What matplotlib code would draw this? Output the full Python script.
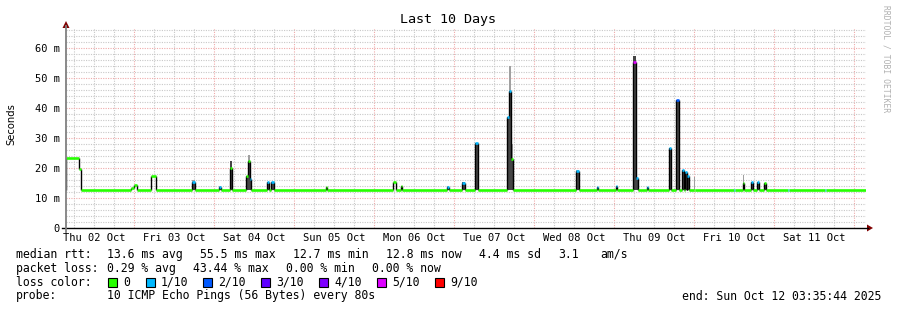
import matplotlib
matplotlib.use('Agg')
from matplotlib import pyplot as plt
from matplotlib.lines import Line2D
from matplotlib.patches import Polygon, Rectangle

W, H = 897, 310
MONO = 'DejaVu Sans Mono'

# time axis: hours since Thu 02 Oct 00:00
t_start = 3.596
t_end = 243.596
baseline = 12.7   # median rtt (ms) outside the events

# events on the median line (start h, end h, median ms, dark smoke top, light smoke top, loss idx)
ev_from = [3.6, 7.35, 22.95, 24.0, 29.1, 41.4, 49.5, 52.8, 57.6, 58.05, 58.65, 63.75, 65.1,
           81.45, 101.7, 103.95, 117.75, 122.4, 126.3, 135.9, 136.5, 137.1, 156.45, 162.75,
           168.45, 173.7, 174.6, 177.75, 184.5, 186.6, 188.25, 189.15, 189.9, 191.85, 204.0,
           206.55, 208.95, 210.75, 212.85, 220.2, 231.3]
ev_to = [7.35, 7.95, 24.0, 24.9, 30.45, 42.15, 50.1, 53.25, 58.05, 58.65, 59.1, 64.35, 66.0,
         81.9, 102.45, 104.4, 118.35, 123.3, 127.05, 136.5, 137.1, 137.7, 157.35, 163.2,
         168.9, 174.6, 175.2, 178.2, 185.1, 187.5, 188.85, 189.75, 190.5, 192.3, 204.3,
         207.0, 209.7, 211.35, 213.45, 220.5, 231.6]
ev_median = [23.3, 19.8, 13.4, 14.4, 17.4, 15.5, 13.6, 20.0, 17.2, 22.5, 16.5, 15.3, 15.3,
             13.8, 15.5, 14.0, 13.8, 15.0, 28.4, 37.0, 45.8, 23.0, 19.0, 13.8,
             14.0, 55.3, 16.7, 13.7, 26.7, 42.7, 19.5, 18.7, 17.3, 12.7, 12.7,
             15.0, 15.3, 15.3, 15.0, 12.7, 12.7]
ev_core = [12.7, 12.7, 12.7, 12.7, 12.7, 15.5, 13.6, 22.3, 17.5, 22.5, 16.5, 15.3, 15.3,
           13.8, 12.7, 14.0, 13.8, 15.2, 28.4, 37.0, 45.8, 23.0, 19.0, 13.8,
           14.0, 57.3, 16.7, 13.7, 26.7, 42.7, 19.5, 18.7, 17.3, 12.7, 12.7,
           15.0, 15.3, 15.3, 15.0, 12.7, 12.7]
ev_smoke = [12.7, 12.7, 12.7, 12.7, 12.7, 16.0, 14.0, 22.5, 17.5, 24.5, 16.5, 15.5, 15.5,
            13.8, 12.7, 14.0, 14.0, 15.5, 28.4, 37.0, 54.0, 28.0, 19.5, 13.8,
            14.0, 57.3, 16.7, 13.7, 26.7, 42.7, 19.5, 18.7, 17.3, 17.0, 12.7,
            17.7, 15.3, 15.3, 15.0, 12.7, 12.7]
ev_loss = [0, 0, 0, 0, 0, 1, 1, 0, 0, 0, 1, 1, 1,
           0, 0, 0, 1, 1, 1, 1, 1, 0, 1, 1,
           1, 5, 1, 1, 1, 2, 1, 1, 1, 0, 1,
           0, 1, 1, 0, 1, 1]

loss_labels = ['0', '1/10', '2/10', '3/10', '4/10', '5/10', '9/10']
loss_colors = ['#26ff00', '#00b8ff', '#0059ff', '#5e00ff', '#7e00ff', '#dd00ff', '#ff0000']

day_labels = ['Thu 02 Oct', 'Fri 03 Oct', 'Sat 04 Oct', 'Sun 05 Oct', 'Mon 06 Oct',
              'Tue 07 Oct', 'Wed 08 Oct', 'Thu 09 Oct', 'Fri 10 Oct', 'Sat 11 Oct']
y_ticks = [0, 10, 20, 30, 40, 50, 60]


def px(x, y):
    return x / W, 1 - y / H


# build the step segments: baseline between events
seg = []
t = t_start
for i in range(len(ev_from)):
    if ev_from[i] > t:
        seg.append((t, ev_from[i], baseline, 0))
    seg.append((ev_from[i], ev_to[i], ev_median[i], ev_loss[i]))
    t = ev_to[i]
seg.append((t, t_end, baseline, 0))

fig = plt.figure(figsize=(W / 100, H / 100), dpi=100)
fig.patch.set_facecolor('white')
ax = fig.add_axes([66 / W, 82 / H, 800 / W, 200 / H])
ax.set_xlim(t_start, t_end)
ax.set_ylim(0, 66.67)
for s in ax.spines.values():
    s.set_visible(False)

# grid
grid_c = '#c8c8c8'
mgrid_c = '#efaaaa'
dots = (0, (1, 1.2))
h = 6
while h < t_end:
    if h > t_start:
        c = mgrid_c if h % 24 == 0 else grid_c
        ax.axvline(h, color=c, lw=0.8, ls=dots, zorder=0)
    h += 6
for v in range(2, 67, 2):
    c = mgrid_c if v % 10 == 0 else grid_c
    ax.axhline(v, color=c, lw=0.8, ls=dots, zorder=0)

# smoke
for i in range(len(ev_from)):
    w = ev_to[i] - ev_from[i]
    if ev_smoke[i] > baseline:
        ax.bar(ev_from[i], ev_smoke[i] - baseline, width=w, bottom=baseline, align='edge',
               color='#a0a0a0', lw=0, zorder=1)
    if ev_core[i] > baseline:
        ax.bar(ev_from[i], ev_core[i] - baseline, width=w, bottom=baseline, align='edge',
               color='#454545', lw=0, zorder=2)

# median line: black risers, loss-coloured treads
for a, b in zip(seg[:-1], seg[1:]):
    if a[2] != b[2]:
        ax.plot([b[0], b[0]], [a[2], b[2]], color='black', lw=1.0, zorder=3,
                solid_capstyle='butt')
for s in seg:
    ax.plot([s[0], s[1]], [s[2], s[2]], color=loss_colors[s[3]], lw=1.9, zorder=4,
            solid_capstyle='butt')

ax.set_xticks([12 + 24 * i for i in range(len(day_labels))])
ax.set_xticklabels(day_labels, fontfamily=MONO, fontsize=7.5)
ax.set_yticks(y_ticks)
ax.set_yticklabels(['0' if v == 0 else '%d m' % v for v in y_ticks], fontfamily=MONO, fontsize=7.5)
ax.tick_params(axis='x', length=0, pad=3.5)
ax.tick_params(axis='y', length=0, pad=4.5)

# axes lines and arrows
fig.add_artist(Line2D([px(62, 0)[0], px(868, 0)[0]], [px(0, 228)[1]] * 2, color='black', lw=1))
fig.add_artist(Line2D([px(66, 0)[0]] * 2, [px(0, 232)[1], px(0, 26)[1]], color='#808080', lw=1.3))
fig.add_artist(Polygon([px(867, 224.5), px(867, 231.5), px(873, 228)], closed=True,
                       color='#800000', lw=0))
fig.add_artist(Polygon([px(62.5, 28), px(69.5, 28), px(66, 21)], closed=True,
                       color='#800000', lw=0))

# titles
fig.text(*px(448, 20), 'Last 10 Days', family=MONO, fontsize=9.6, ha='center', va='center')
fig.text(*px(11, 124), 'Seconds', fontsize=7.2, rotation=90, ha='center', va='center')
fig.text(*px(886, 5), 'RRDTOOL / TOBI OETIKER', family=MONO, fontsize=5.8, color='#b0b0b0',
         rotation=270, ha='center', va='top')

# legend block
fs = 8.3
rows = [
    (254.3, [(16, 'median rtt:'), (107, '13.6 ms avg'), (200, '55.5 ms max'), (293, '12.7 ms min'),
             (386, '12.8 ms now'), (479, '4.4 ms sd'), (558, '3.1'), (600, 'am/s')]),
    (268.3, [(16, 'packet loss:'), (107, '0.29 % avg'), (193, '43.44 % max'), (286, '0.00 % min'),
             (372, '0.00 % now')]),
    (296, [(16, 'probe:'), (107, '10 ICMP Echo Pings (56 Bytes) every 80s')]),
]
for y, items in rows:
    for x, txt in items:
        fig.text(*px(x, y), txt, family=MONO, fontsize=fs, ha='left', va='center')

fig.text(*px(16, 282.3), 'loss color:', family=MONO, fontsize=fs, ha='left', va='center')
box_x = [108, 146, 203, 261, 319, 377, 435]
for bx, lab, col in zip(box_x, loss_labels, loss_colors):
    x0, y0 = px(bx, 286.7)
    fig.add_artist(Rectangle((x0, y0), 9 / W, 9 / H, facecolor=col, edgecolor='black', lw=0.8))
    fig.text(*px(bx + 15, 282.3), lab, family=MONO, fontsize=fs, ha='left', va='center')

fig.text(*px(881, 296), 'end: Sun Oct 12 03:35:44 2025', family=MONO, fontsize=fs,
         ha='right', va='center')

fig.savefig('out.png', dpi=100, facecolor='white')
